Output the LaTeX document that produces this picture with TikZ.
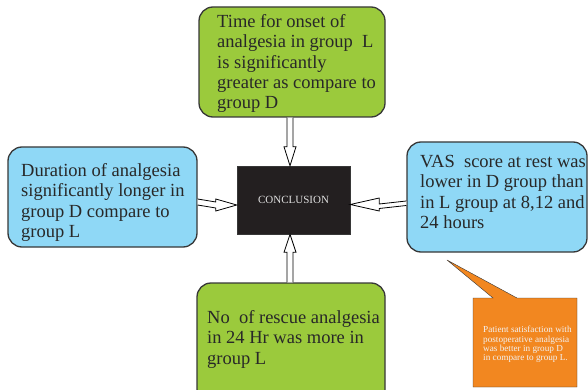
\documentclass[tikz,border=0pt]{standalone}
\usepackage{fontspec}
\setmainfont{Liberation Serif}
\usetikzlibrary{calc}
\definecolor{boxgreen}{RGB}{155,202,60}
\definecolor{boxblue}{RGB}{143,216,246}
\definecolor{boxblack}{RGB}{35,31,32}
\definecolor{boxorange}{RGB}{242,135,32}
\definecolor{edgegrey}{RGB}{55,55,55}
\definecolor{txtgrey}{RGB}{40,40,40}
\tikzset{
  roundbox/.style={draw=edgegrey, line width=1.3pt, rounded corners=14pt, inner sep=0pt},
  boxtext/.style={anchor=north west, inner sep=0pt, align=left, text=txtgrey,
    font=\fontsize{18.5}{20.4}\selectfont},
  blockarrow/.style={draw=black, fill=white, line width=0.8pt, line join=miter},
}
\begin{document}
\begin{tikzpicture}[x=1pt,y=-1pt]
\useasboundingbox (0,0) rectangle (588,390);
\clip (0,0) rectangle (588,390);
% boxes
\node[roundbox, fill=boxgreen, minimum width=186pt, minimum height=110pt] (top) at (292,62) {};
\node[roundbox, fill=boxblue, minimum width=189pt, minimum height=100pt] (left) at (102.5,197) {};
\node[roundbox, fill=boxblue, minimum width=180pt, minimum height=110pt] (right) at (497,197) {};
\node[roundbox, fill=boxgreen, minimum width=188pt, minimum height=120pt] (bottom) at (291,343) {};
\node[draw=edgegrey, line width=0.5pt, fill=boxblack, minimum width=113pt, minimum height=68pt, inner sep=0pt,
  text=white!88!black, font=\fontsize{11}{12}\selectfont] (conc) at (293.5,200) {CONCLUSION};
% texts
\node[boxtext] (toptext) at (217,14) {Time for onset of\\analgesia in group\ \ L\\is significantly\\greater as compare to\\group D};
\node[boxtext] (lefttext) at (21,163) {Duration of analgesia\\significantly longer in\\group D compare to\\group L};
\node[boxtext] (righttext) at (420,155) {VAS\ \ score at rest was\\lower in D group than\\in L group at 8,12 and\\24 hours};
\node[boxtext] (bottomtext) at (207,310) {No\ \ of rescue analgesia\\in 24 Hr was more in\\group L};
% arrows
\draw[blockarrow] ($(top.south)+(-5,0)$) -- ($(conc.north)+(-6.5,-19)$) -- ($(conc.north)+(-9.5,-19)$)
  -- ($(conc.north)+(-3.5,0)$) -- ($(conc.north)+(2.5,-19)$) -- ($(conc.north)+(-0.5,-19)$) -- ($(top.south)+(1,0)$);
\draw[blockarrow] ($(bottom.north)+(-4,0)$) -- ($(conc.south)+(-6.5,18)$) -- ($(conc.south)+(-9.5,18)$)
  -- ($(conc.south)+(-3.5,0)$) -- ($(conc.south)+(2.5,18)$) -- ($(conc.south)+(-0.5,18)$) -- ($(bottom.north)+(2,0)$);
\draw[blockarrow] ($(left.east)+(0,2)$) -- ($(conc.west)+(-21,2)$) -- ($(conc.west)+(-21,-1)$)
  -- ($(conc.west)+(0,5)$) -- ($(conc.west)+(-21,11)$) -- ($(conc.west)+(-21,8)$) -- ($(left.east)+(0,8)$);
\draw[blockarrow] ($(right.west)+(0,4)$) -- ($(conc.east)+(29,4)$) -- ($(conc.east)+(29,-2)$)
  -- ($(conc.east)+(0,4.5)$) -- ($(conc.east)+(29,11)$) -- ($(conc.east)+(29,8.5)$) -- ($(right.west)+(0,8.5)$);
% callout
\coordinate (tip) at (447,260);
\draw[draw=edgegrey, line width=0.4pt, fill=boxorange] (473,298) -- (493,298) -- (tip) -- (517,298)
  -- (577,298) -- (577,387) -- (473,387) -- cycle;
\node[anchor=north west, inner sep=0pt, align=left, text=white!95!black,
  font=\fontsize{9.2}{9.4}\selectfont] (callouttext) at (483,326)
  {Patient satisfaction with\\postoperative analgesia\\was better in group D\\in compare to group L.};
\end{tikzpicture}
\end{document}
